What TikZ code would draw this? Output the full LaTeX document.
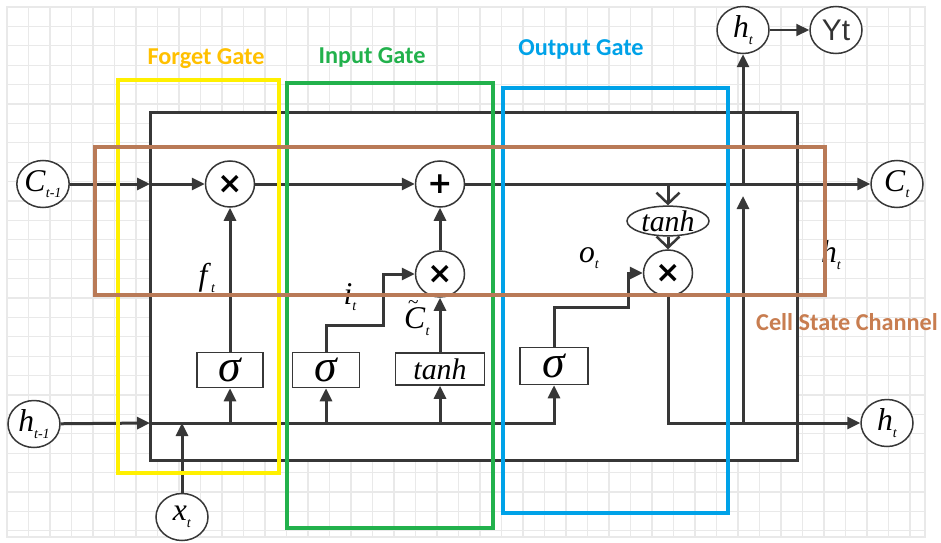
\documentclass[tikz,border=0pt]{standalone}
\usepackage{fontspec}
\setmainfont{Liberation Serif}
\newfontfamily\gatefont{Carlito}
\newfontfamily\opfont{DejaVu Sans}
\newfontfamily\outfont{Liberation Sans}
\usepackage{tikz}
\usetikzlibrary{shapes.geometric, positioning, arrows.meta, calc}

\definecolor{gridgray}{RGB}{233,233,233}
\definecolor{wiregray}{RGB}{55,55,55}
\definecolor{forgetframe}{RGB}{255,240,0}
\definecolor{forgettext}{RGB}{255,192,0}
\definecolor{inputgreen}{RGB}{34,177,76}
\definecolor{outputblue}{RGB}{0,162,232}
\definecolor{cellbrown}{RGB}{185,122,87}
\definecolor{celltext}{RGB}{200,125,80}

\newcommand{\lstmvar}[2]{\textit{#1}\raisebox{-0.45ex}{\fontsize{8}{8}\selectfont\textit{#2}}}
\newcommand{\tildeC}{\makebox[0pt][l]{\raisebox{0.62em}{\hspace{0.12em}\fontsize{11}{11}\selectfont\textasciitilde}}\textit{C}}

\begin{document}
\begin{tikzpicture}[x=0.2mm, y=-0.2mm, >={Triangle[length=2.6mm,width=2.4mm]},
    wire/.style={line width=0.6mm, draw=wiregray},
    var/.style={ellipse, draw=wiregray, line width=0.3mm, fill=white, inner sep=0pt,
        minimum width=10.4mm, minimum height=9.4mm, font=\fontsize{18}{18}\selectfont},
    op/.style={ellipse, draw=wiregray, line width=0.3mm, fill=white, inner sep=0pt,
        minimum width=9.8mm, minimum height=9.2mm, font=\opfont\bfseries\fontsize{17}{17}\selectfont},
    gatebox/.style={rectangle, draw=wiregray, line width=0.3mm, fill=white, inner sep=0pt,
        minimum height=7mm},
    frame/.style={line width=0.8mm},
    gatelabel/.style={font=\gatefont\bfseries\fontsize{13.8}{15}\selectfont},
    barb/.style={-{Straight Barb[length=2.2mm,width=4.6mm,line width=0.5mm]}}]

        % Background grid
        \useasboundingbox (0,0) rectangle (941,542);
        \foreach \gx in {7,28.5,...,925}
            \draw[gridgray, line width=0.25mm] (\gx,7) -- (\gx,537);
        \foreach \gy in {7,26.4,...,537}
            \draw[gridgray, line width=0.25mm] (7,\gy) -- (925,\gy);
        \draw[gridgray, line width=0.25mm] (7,7) rectangle (925,537);

        % Cell body
        \fill[white] (150,112) rectangle (797,460);
        \draw[wire] (150,112) rectangle (797,460);

        % Inputs and outputs
        \node[var] (cprev) at (43,184) {\lstmvar{C}{t-1}};
        \node[var] (hprev) at (34,424) {\lstmvar{h}{t-1}};
        \node[var] (xt) at (182,517) {\lstmvar{x}{t}};
        \node[var] (ct) at (897,184) {\lstmvar{C}{t}};
        \node[var] (ht) at (887,423) {\lstmvar{h}{t}};
        \node[var] (htop) at (743,30) {\lstmvar{h}{t}};
        \node[var, font=\outfont\fontsize{17}{17}\selectfont, text=black!80] (yt) at (836,30) {Yt};

        % Pointwise operations
        \node[op] (mulf) at (230,184) {×};
        \node[op] (add) at (440,184) {+};
        \node[op] (muli) at (440,274) {×};
        \node[op] (mulo) at (668,273) {×};
        \node[ellipse, draw=wiregray, line width=0.3mm, fill=white, inner sep=0pt,
            minimum width=16.4mm, minimum height=4.6mm, font=\fontsize{17}{17}\selectfont]
            (tanhc) at (668,221) {\textit{tanh}};

        % Layers
        \node[gatebox, minimum width=13.2mm] (sigf) at (230,370) {\fontsize{26}{26}\selectfont\textit{σ}};
        \node[gatebox, minimum width=13.4mm] (sigi) at (326,370) {\fontsize{26}{26}\selectfont\textit{σ}};
        \node[gatebox, minimum width=17.8mm, minimum height=6.4mm] (tanhi) at (440,369)
            {\fontsize{17}{17}\selectfont\textit{tanh}};
        \node[gatebox, minimum width=13.6mm, minimum height=7.4mm] (sigo) at (554,366) {\fontsize{26}{26}\selectfont\textit{σ}};

        % Turning points
        \coordinate (cin) at (150,184);
        \coordinate (hin) at (150,423);
        \coordinate (ibend) at (383,325);
        \coordinate (obend) at (628,307);
        \coordinate (hsplit) at (743,423);
        \coordinate (hjoin) at (743,196);

        % Cell state line
        \draw[wire,->] (cprev) -- (cin);
        \draw[wire,->] (cin) -- (mulf);
        \draw[wire,->] (mulf) -- (add);
        \draw[wire,->] (add) -- (ct);

        % Hidden state and input
        \draw[wire,->] (hprev) -- (hin);
        \draw[wire,->] (hin) -| (sigo);
        \draw[wire,->] (xt) -- (xt |- hin);
        \draw[wire,->] (sigf |- hin) -- (sigf);
        \draw[wire,->] (sigi |- hin) -- (sigi);
        \draw[wire,->] (tanhi |- hin) -- (tanhi);

        % Gates
        \draw[wire,->] (sigf) -- (mulf);
        \draw[wire,->] (sigi) |- (ibend) |- (muli);
        \draw[wire,->] (tanhi) -- (muli);
        \draw[wire,->] (muli) -- (add);
        \draw[wire,->] (sigo) |- (obend) |- (mulo);
        \draw[wire,barb] (tanhc |- cin) -- (tanhc);
        \draw[wire,barb] (tanhc) -- (mulo);

        % Output
        \draw[wire,->] (mulo) |- (ht);
        \draw[wire,->] (hsplit) -- (hjoin);
        \draw[wire,->] (htop |- cin) -- (htop);
        \draw[wire,->, line width=0.4mm] (htop) -- (yt);

        % Signal labels
        \node[font=\fontsize{18}{18}\selectfont] (flbl) at (207,278) {\lstmvar{f}{t}};
        \node[font=\fontsize{18}{18}\selectfont] (ilbl) at (350,297) {\lstmvar{i}{t}};
        \node[font=\fontsize{18}{18}\selectfont] (clbl) at (417,318) {\tildeC\raisebox{-0.45ex}{\fontsize{8}{8}\selectfont\textit{t}}};
        \node[font=\fontsize{18}{18}\selectfont] (olbl) at (589,258) {\lstmvar{o}{t}};
        \node[font=\fontsize{18}{18}\selectfont] (hlbl) at (831,255) {\lstmvar{h}{t}};

        % Gate frames
        \draw[frame, forgetframe] (118,80) rectangle (279,473);
        \draw[frame, inputgreen] (287,83) rectangle (493,528);
        \draw[frame, outputblue] (503,88) rectangle (728,513);
        \draw[frame, cellbrown] (95,147) rectangle (825,295);

        % Frame titles
        \node[gatelabel, text=forgettext] (fgate) at (206,59) {Forget Gate};
        \node[gatelabel, text=inputgreen] (igate) at (372,57) {Input Gate};
        \node[gatelabel, text=outputblue] (ogate) at (581,49) {Output Gate};
        \node[gatelabel, text=celltext] (cgate) at (847,322) {Cell State Channel};
\end{tikzpicture}
\end{document}
